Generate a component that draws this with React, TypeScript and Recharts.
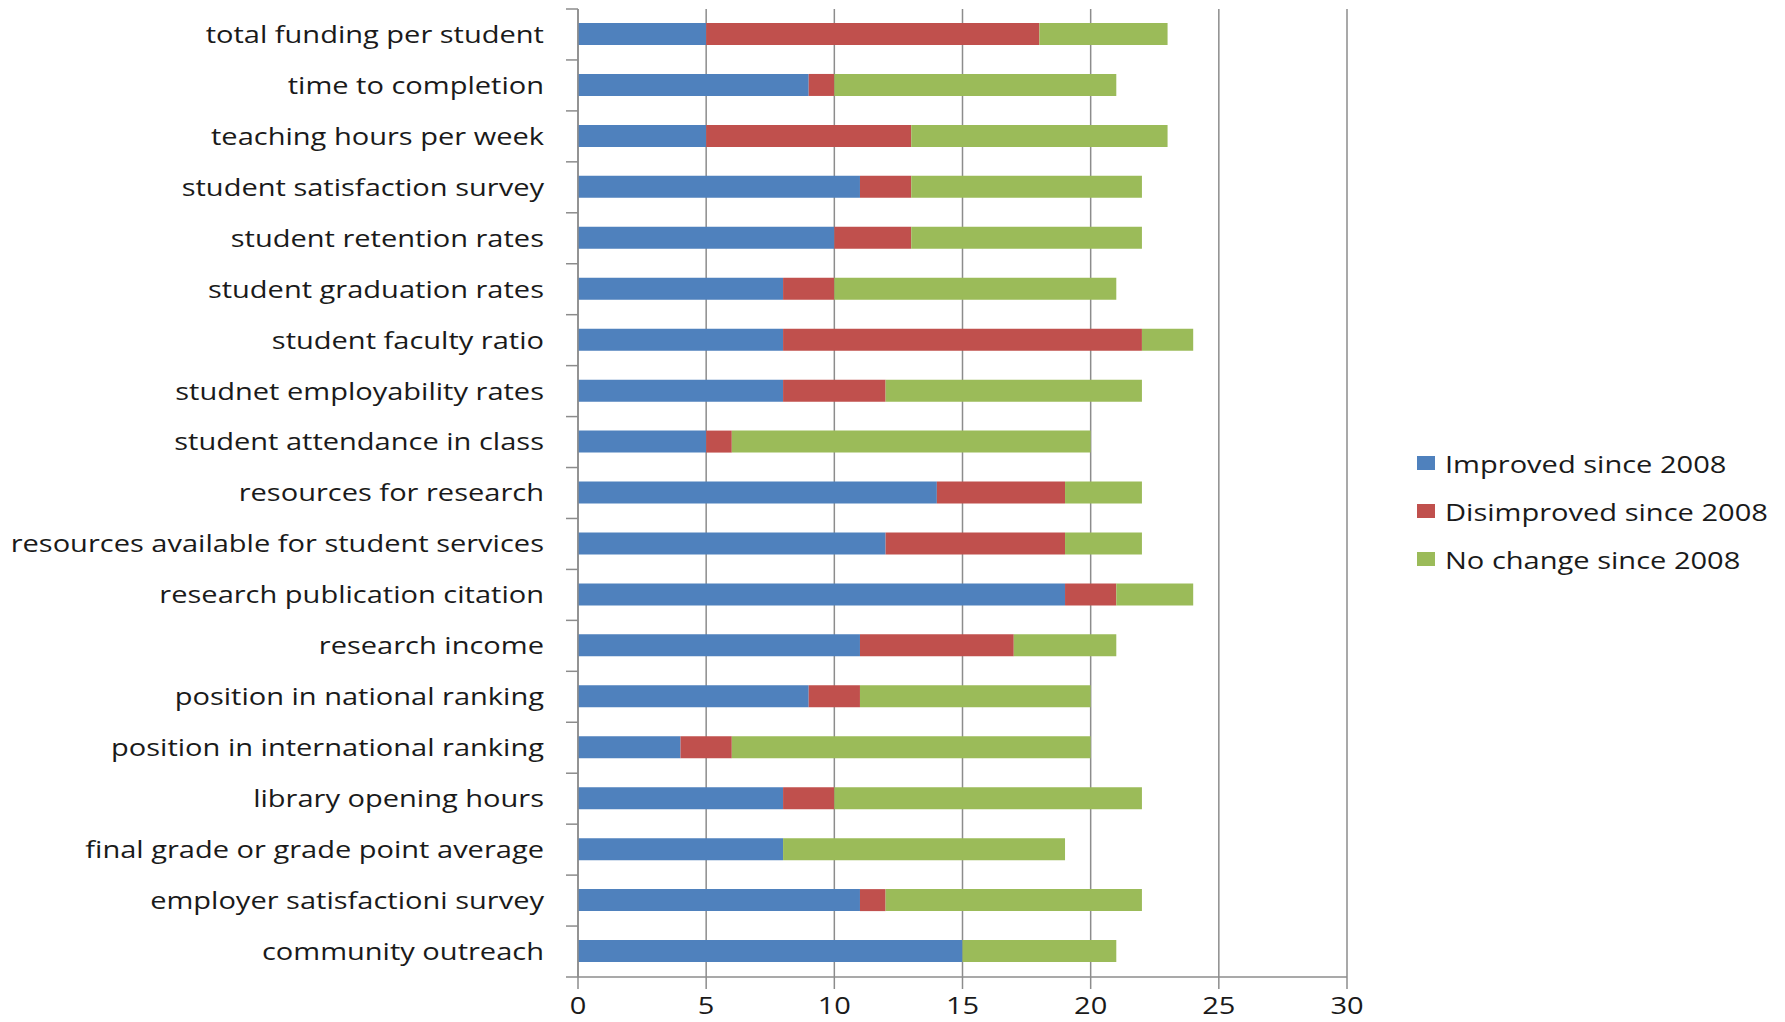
import React from "react";
import { BarChart, Bar, XAxis, YAxis, CartesianGrid } from "recharts";

const categories = [
  "total funding per student",
  "time to completion",
  "teaching hours per week",
  "student satisfaction survey",
  "student retention rates",
  "student graduation rates",
  "student faculty ratio",
  "studnet employability rates",
  "student attendance in class",
  "resources for research",
  "resources available for student services",
  "research publication citation",
  "research income",
  "position in national ranking",
  "position in international ranking",
  "library opening hours",
  "final grade or grade point average",
  "employer satisfactioni survey",
  "community outreach",
];

const improved = [5, 9, 5, 11, 10, 8, 8, 8, 5, 14, 12, 19, 11, 9, 4, 8, 8, 11, 15];
const disimproved = [13, 1, 8, 2, 3, 2, 14, 4, 1, 5, 7, 2, 6, 2, 2, 2, 0, 1, 0];
const noChange = [5, 11, 10, 9, 9, 11, 2, 10, 14, 3, 3, 3, 4, 9, 14, 12, 11, 10, 6];

const xTicks = [0, 5, 10, 15, 20, 25, 30];

const series = [
  { key: "improved", name: "Improved since 2008", color: "#4F81BD" },
  { key: "disimproved", name: "Disimproved since 2008", color: "#C0504D" },
  { key: "noChange", name: "No change since 2008", color: "#9BBB59" },
];

const data = categories.map((name, i) => ({
  name,
  improved: improved[i],
  disimproved: disimproved[i],
  noChange: noChange[i],
}));

const W = 1785;
const H = 1022;
const margin = { top: 9, right: 438, bottom: 0, left: 0 };
const axisWidth = 578;
const xAxisHeight = 45;
const band = (H - margin.top - margin.bottom - xAxisHeight) / categories.length;
const GRID = "#8c8c8c";
const FONT = "'Open Sans', sans-serif";
const TEXT = "#1a1a1a";
const FS = 24;
// the text is drawn a little wider than the font's natural width
const SX = 1.21;

function WideText({ x, y, anchor, children, dy }: any) {
  return (
    <text
      x={x / SX}
      y={y}
      dy={dy}
      transform={`scale(${SX},1)`}
      textAnchor={anchor}
      fontSize={FS}
      fill={TEXT}
      fontFamily={FONT}
    >
      {children}
    </text>
  );
}

// category label plus the short tick at the band boundary above it
function CategoryTick(props: any) {
  const { y, payload, index } = props;
  const ax = axisWidth;
  return (
    <g>
      <line x1={ax - 12} x2={ax} y1={y - band / 2} y2={y - band / 2} stroke={GRID} strokeWidth={1.5} />
      {index === categories.length - 1 && (
        <line x1={ax - 12} x2={ax} y1={y + band / 2} y2={y + band / 2} stroke={GRID} strokeWidth={1.5} />
      )}
      <WideText x={ax - 34} y={y} dy="0.35em" anchor="end">
        {payload.value}
      </WideText>
    </g>
  );
}

function ValueTick(props: any) {
  const { x, payload } = props;
  return (
    <WideText x={x} y={H - 8} anchor="middle">
      {payload.value}
    </WideText>
  );
}

export default function App() {
  return (
    <div style={{ position: "absolute", left: 0, top: 0, width: W, height: H, background: "#fff" }}>
      <BarChart width={W} height={H} data={data} layout="vertical" margin={margin}>
        <CartesianGrid horizontal={false} stroke={GRID} strokeWidth={1.5} />
        <XAxis
          type="number"
          domain={[0, 30]}
          ticks={xTicks}
          interval={0}
          height={xAxisHeight}
          stroke={GRID}
          strokeWidth={1.5}
          tickSize={12}
          tick={<ValueTick />}
        />
        <YAxis
          type="category"
          dataKey="name"
          width={axisWidth}
          stroke={GRID}
          strokeWidth={1.5}
          tickLine={false}
          interval={0}
          tick={<CategoryTick />}
        />
        {series.map((s) => (
          <Bar key={s.key} dataKey={s.key} name={s.name} stackId="a" fill={s.color} barSize={22} isAnimationActive={false} />
        ))}
      </BarChart>
      <div style={{ position: "absolute", left: 1417, top: 439, fontFamily: FONT }}>
        {series.map((s) => (
          <div key={s.key} style={{ display: "flex", alignItems: "center", height: 48 }}>
            <div style={{ width: 18, height: 14, background: s.color, marginRight: 10 }} />
            <span
              style={{
                fontSize: FS,
                color: TEXT,
                whiteSpace: "nowrap",
                display: "inline-block",
                transform: `scaleX(${SX})`,
                transformOrigin: "left center",
              }}
            >
              {s.name}
            </span>
          </div>
        ))}
      </div>
    </div>
  );
}
